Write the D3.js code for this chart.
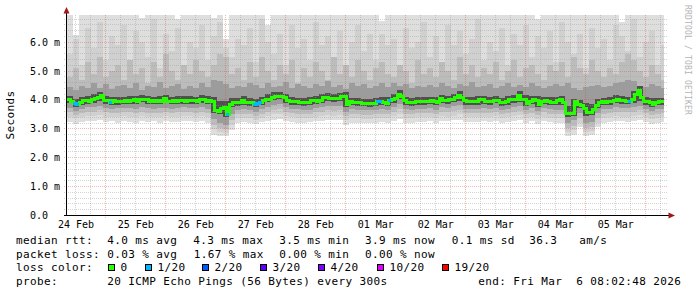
<!DOCTYPE html>
<html><head><meta charset="utf-8">
<script src="https://cdn.jsdelivr.net/npm/d3@7"></script>
<style>body{margin:0;background:#fff}svg{display:block}text{white-space:pre}</style>
</head><body>
<svg id="c" width="697" height="297"></svg>
<script>
// ---------------- data ----------------
const median = [
4.02,3.97,3.88,3.86,3.93,4.00,4.00,3.98,4.02,4.08,
4.12,4.16,4.00,3.99,3.94,4.00,3.97,3.95,3.98,4.00,
3.97,3.99,4.03,3.95,4.04,4.05,4.03,3.98,3.99,3.97,
4.00,3.98,4.07,3.98,3.97,4.00,3.98,3.99,4.01,3.98,
4.00,3.99,4.00,3.97,4.03,4.02,3.98,4.00,3.97,3.66,
3.63,3.72,3.76,3.50,3.87,3.92,3.93,3.92,4.00,3.93,
3.92,3.93,3.86,3.88,3.93,4.00,4.04,4.05,4.12,4.13,
4.15,4.15,4.10,4.00,3.96,3.95,3.96,3.93,3.92,3.93,
3.92,4.00,4.01,3.98,4.00,4.10,4.11,4.07,4.06,4.08,
4.07,4.14,4.15,3.87,3.96,3.92,3.93,3.92,3.90,3.90,
3.91,3.89,3.90,3.97,3.98,3.92,3.91,4.00,4.02,4.08,
4.20,4.15,4.00,3.93,3.92,3.93,3.96,3.95,3.96,3.95,
3.97,4.00,3.98,3.92,4.07,4.00,3.99,4.03,4.05,4.10,
4.18,4.10,4.00,3.95,3.95,3.96,3.95,4.03,4.04,3.96,
3.95,3.96,4.00,4.00,3.93,3.92,3.95,4.03,4.04,4.03,
4.18,4.05,4.04,3.91,3.97,4.03,4.01,3.87,3.98,3.99,
3.97,3.93,3.92,4.00,4.02,3.92,3.55,3.54,3.56,3.95,
3.86,3.84,3.72,3.58,3.60,3.70,3.84,3.94,3.95,3.94,
3.95,3.98,4.00,4.04,3.99,4.00,3.98,3.97,4.02,4.19,
4.36,4.10,3.98,3.96,3.94,3.87,3.94,3.95,3.95];
const loss = [
0,0,1,1,0,0,0,0,0,0,0,0,0,0,1,0,0,0,0,0,
0,0,0,0,0,0,0,0,0,0,0,0,0,0,0,0,0,0,0,0,
0,0,0,0,0,0,0,0,0,0,0,0,0,1,0,0,0,0,0,0,
0,0,1,1,1,0,0,0,0,0,0,0,0,0,0,0,0,0,0,0,
0,0,0,0,0,0,0,0,0,0,0,0,0,0,0,0,0,0,0,0,
0,0,0,1,1,0,0,1,0,0,0,0,0,0,0,0,0,0,0,0,
0,0,0,0,0,0,0,0,0,0,0,0,0,0,0,0,0,0,0,0,
0,0,0,0,0,0,0,0,0,0,0,0,0,0,0,0,0,0,0,0,
0,0,0,0,0,0,0,0,0,0,0,0,0,0,0,0,0,0,0,0,
0,0,0,0,0,0,0,1,0,0,0,0,0,0,0,0,0,0,0];
// smoke: ping spread per 2-step column (ms)
const smokeMax = [
7.5,6.25,7.5,7.5,7.5,7.5,7.5,7.5,7.5,7.5,
7.5,7.5,6.85,7.5,7.5,7.5,7.5,7.5,6.8,7.5,
7.5,7.5,7.5,7.5,6.85,7.5,6.1,7.5,7.5,7.5,
7.5,7.5,7.5,6.6,7.5,7.5,7.5,7.5,7.5,7.5,
7.5,7.5,7.5,7.5,7.5,7.5,7.5,7.5,7.5,7.5,
7.5,7.5,6.75,7.5,7.5,7.5,7.5,7.5,7.5,7.5,
7.5,7.5,7.5,7.5,7.5,7.5,7.5,7.5,7.5,7.5,
7.5,7.5,7.5,7.5,7.5,7.5,7.5,7.5,6.8,7.5,
7.5,7.5,7.5,7.5,7.5,7.5,7.5,7.5,7.5,7.5,
7.5,7.5,6.7,7.5,7.5,7.5,7.5,7.5,7.5,7.5];
const smokeU2 = [
5.6,6.1,5.2,6.5,5.8,6.7,5.4,6.2,5.9,6.6,
5.3,6.4,6.0,5.5,6.8,5.1,6.3,5.7,6.5,5.2,
6.0,5.8,6.6,5.4,6.2,6.7,5.8,5.5,6.1,5.9,
6.5,5.3,6.8,6.0,5.6,6.3,5.2,6.6,5.8,6.1,
5.4,6.7,5.9,6.2,5.5,6.4,5.1,6.0,6.6,5.7,
6.3,5.4,6.3,5.9,6.1,5.2,6.5,5.8,6.0,6.7,
5.5,6.2,5.3,6.6,5.9,6.4,5.6,6.1,6.8,5.4,
6.0,5.7,6.5,5.2,6.3,5.9,6.6,5.5,6.2,5.8,
6.4,5.3,6.7,6.0,5.6,6.3,5.1,6.5,5.8,6.1,
5.4,6.6,6.2,5.7,6.8,5.5,6.0,6.4,5.2,5.9];
const smokeU3 = [
4.8,5.1,4.7,5.3,4.9,5.5,4.8,5.0,5.2,4.7,
5.4,4.9,5.1,4.6,5.3,4.8,5.6,5.0,4.7,5.2,
4.9,5.4,5.0,4.8,5.2,5.6,5.5,4.9,5.1,4.7,
5.3,4.8,5.5,5.0,4.7,5.2,4.9,5.4,4.6,5.1,
4.8,5.3,5.0,4.7,5.5,4.9,5.2,4.8,5.4,5.0,
4.7,5.1,5.3,4.9,4.8,5.2,5.0,4.6,5.4,4.9,
5.1,4.8,5.3,5.0,4.7,5.5,4.9,5.2,4.8,5.1,
4.9,5.3,4.7,5.0,5.4,4.8,5.1,5.2,4.9,4.7,
5.2,5.0,5.3,4.8,5.5,5.1,4.9,5.4,5.0,4.8,
5.1,4.9,5.3,5.6,5.4,5.0,4.8,5.2,4.9,4.7];
const smokeU4 = [
4.45,4.35,4.5,4.4,4.6,4.42,4.55,4.38,4.48,4.52,
4.4,4.58,4.36,4.5,4.44,4.62,4.4,4.47,4.55,4.38,
4.5,4.42,4.6,4.46,4.7,4.65,4.55,4.4,4.5,4.44,
4.6,4.52,4.4,4.58,4.46,4.5,4.62,4.42,4.55,4.48,
4.4,4.56,4.5,4.64,4.45,4.52,4.38,4.6,4.47,4.55,
4.42,4.5,4.58,4.44,4.6,4.48,4.54,4.4,4.5,4.46,
4.52,4.44,4.6,4.5,4.42,4.56,4.48,4.62,4.45,4.5,
4.55,4.4,4.5,4.6,4.46,4.52,4.44,4.58,4.5,4.42,
4.48,4.55,4.5,4.6,4.4,4.35,4.45,4.5,4.52,4.44,
4.5,4.58,4.62,4.7,4.65,4.5,4.46,4.55,4.48,4.42];
const smokeU5 = [
4.14,4.05,4.12,4.13,4.2,4.28,4.14,4.1,4.1,4.12,
4.13,4.15,4.18,4.14,4.12,4.14,4.16,4.12,4.13,4.15,
4.14,4.12,4.16,4.13,4.1,3.95,3.98,4.06,4.08,4.13,
4.08,4.03,4.12,4.2,4.26,4.28,4.22,4.1,4.08,4.07,
4.1,4.14,4.22,4.24,4.2,4.25,4.27,4.08,4.07,4.04,
4.04,4.08,4.1,4.1,4.2,4.36,4.12,4.07,4.1,4.1,
4.12,4.1,4.18,4.15,4.22,4.3,4.12,4.1,4.13,4.15,
4.1,4.14,4.08,4.14,4.18,4.3,4.16,4.14,4.13,4.12,
4.1,4.1,4.14,3.8,4.05,4.0,3.88,3.86,4.05,4.08,
4.1,4.16,4.13,4.12,4.3,4.48,4.1,4.06,4.08,4.08];
const smokeL5 = [
3.88,3.74,3.82,3.86,3.9,3.98,3.87,3.84,3.84,3.87,
3.86,3.85,3.92,3.87,3.85,3.86,3.88,3.85,3.86,3.87,
3.87,3.86,3.9,3.86,3.55,3.5,3.4,3.76,3.8,3.83,
3.8,3.74,3.82,3.92,4.0,4.02,3.9,3.84,3.82,3.8,
3.81,3.87,3.9,3.96,3.94,3.96,3.76,3.82,3.8,3.78,
3.77,3.79,3.82,3.8,3.9,4.02,3.82,3.8,3.84,3.83,
3.85,3.81,3.88,3.87,3.93,3.98,3.83,3.83,3.84,3.85,
3.83,3.88,3.8,3.84,3.91,3.94,3.8,3.85,3.76,3.86,
3.82,3.81,3.82,3.42,3.45,3.72,3.46,3.48,3.72,3.82,
3.84,3.88,3.87,3.86,3.9,3.98,3.84,3.76,3.82,3.83];
const smokeL4 = [
3.72,3.62,3.7,3.74,3.75,3.8,3.72,3.7,3.71,3.73,
3.72,3.7,3.76,3.72,3.7,3.71,3.73,3.7,3.72,3.74,
3.73,3.71,3.75,3.7,3.35,3.2,3.15,3.5,3.65,3.68,
3.66,3.6,3.68,3.75,3.82,3.85,3.76,3.7,3.68,3.66,
3.67,3.72,3.75,3.8,3.78,3.8,3.6,3.68,3.66,3.64,
3.64,3.66,3.68,3.66,3.75,3.85,3.68,3.66,3.7,3.69,
3.71,3.67,3.74,3.72,3.78,3.82,3.69,3.69,3.7,3.71,
3.69,3.73,3.66,3.7,3.76,3.78,3.66,3.71,3.62,3.72,
3.68,3.67,3.66,3.2,3.3,3.55,3.22,3.25,3.55,3.68,
3.7,3.74,3.72,3.72,3.76,3.8,3.7,3.62,3.68,3.69];
const smokeL3 = [
3.57,3.48,3.55,3.59,3.6,3.64,3.57,3.55,3.56,3.58,
3.57,3.55,3.6,3.56,3.55,3.56,3.58,3.55,3.57,3.59,
3.58,3.56,3.6,3.55,3.15,3.02,2.98,3.3,3.5,3.53,
3.51,3.45,3.53,3.6,3.66,3.68,3.6,3.55,3.53,3.51,
3.52,3.57,3.6,3.64,3.62,3.64,3.45,3.53,3.51,3.49,
3.49,3.51,3.53,3.51,3.6,3.68,3.53,3.51,3.55,3.54,
3.56,3.52,3.59,3.57,3.62,3.66,3.54,3.54,3.55,3.56,
3.54,3.58,3.51,3.55,3.6,3.62,3.51,3.56,3.47,3.57,
3.53,3.52,3.51,3.02,3.1,3.38,3.04,3.06,3.38,3.53,
3.55,3.59,3.57,3.57,3.6,3.64,3.55,3.47,3.53,3.54];
const smokeL2 = [
3.42,3.36,3.4,3.44,3.45,3.48,3.42,3.4,3.41,3.43,
3.42,3.4,3.45,3.41,3.4,3.41,3.43,3.4,3.42,3.44,
3.43,3.41,3.45,3.4,2.98,2.88,2.86,3.12,3.36,3.39,
3.37,3.32,3.39,3.45,3.5,3.52,3.45,3.4,3.38,3.37,
3.38,3.42,3.45,3.48,3.46,3.48,3.32,3.39,3.37,3.35,
3.35,3.37,3.39,3.37,3.45,3.52,3.39,3.37,3.41,3.4,
3.42,3.38,3.44,3.42,3.46,3.5,3.4,3.4,3.41,3.42,
3.4,3.43,3.37,3.41,3.45,3.47,3.37,3.42,3.34,3.42,
3.39,3.38,3.37,2.88,2.95,3.22,2.9,2.92,3.22,3.39,
3.41,3.44,3.42,3.42,3.45,3.48,3.41,3.34,3.39,3.4];
const smokeMin = [
3.25,3.18,3.24,3.28,3.27,3.3,3.24,3.26,3.22,3.27,
3.25,3.22,3.28,3.23,3.26,3.21,3.27,3.24,3.25,3.28,
3.26,3.23,3.28,3.22,2.8,2.76,2.75,2.95,3.2,3.24,
3.22,3.16,3.24,3.28,3.32,3.34,3.28,3.24,3.22,3.2,
3.23,3.26,3.28,3.3,3.29,3.3,3.15,3.22,3.2,3.19,
3.2,3.21,3.24,3.22,3.28,3.33,3.22,3.21,3.25,3.24,
3.26,3.22,3.27,3.26,3.29,3.32,3.24,3.23,3.25,3.26,
3.24,3.27,3.2,3.25,3.28,3.3,3.21,3.26,3.17,3.26,
3.23,3.22,3.21,2.76,2.8,3.05,2.76,2.77,3.05,3.22,
3.25,3.27,3.26,3.25,3.28,3.31,3.25,3.18,3.22,3.24];

const yMajorTicks = [0,1,2,3,4,5,6];
const yTickLabels = ["0.0","1.0 m","2.0 m","3.0 m","4.0 m","5.0 m","6.0 m"];
const lossLevels = [0,1,2,3,4,10,19];
const lossLabels = ["0","1/20","2/20","3/20","4/20","10/20","19/20"];
const lossColors = ["#26ff00","#00b8ff","#0059ff","#5e00ff","#7e00ff","#dd00ff","#ff0000"];
const rowTitles = ["median rtt:","packet loss:","loss color:","probe:"];
const rttStats = ["4.0 ms avg","4.3 ms max","3.5 ms min","3.9 ms now","0.1 ms sd","36.3","am/s"];
const lossStats = ["0.03 % avg","1.67 % max","0.00 % min","0.00 % now"];
const probeText = "20 ICMP Echo Pings (56 Bytes) every 300s";
const endText = "end: Fri Mar  6 08:02:48 2026";
const yTitle = "Seconds";
const watermark = "RRDTOOL / TOBI OETIKER";

// ---------------- chart ----------------
const svg = d3.select('#c');
svg.append('rect').attr('width',697).attr('height',297).attr('fill','#fff');
const MONO = "'DejaVu Sans Mono', monospace";
const t0 = Date.UTC(2026,1,24,8,31), t1 = t0 + 10*864e5;
const step = 4320e3, colStep = 8640e3;
const tData = t0 + median.length*step;
const x = d3.scaleUtc().domain([t0,t1]).range([67,667]);
const y = d3.scaleLinear().domain([0,6.925]).range([215.5,15.5]);

svg.append('clipPath').attr('id','pc').append('rect')
  .attr('x',67).attr('y',15).attr('width',600).attr('height',200);

// smoke
const layers = [[smokeMin,smokeMax,'#dedede'],[smokeL2,smokeU2,'#d0d0d0'],
  [smokeL3,smokeU3,'#bcbcbc'],[smokeL4,smokeU4,'#9c9c9c'],[smokeL5,smokeU5,'#505050']];
const gS = svg.append('g').attr('clip-path','url(#pc)').attr('shape-rendering','crispEdges');
layers.forEach(([lo,hi,c]) => {
  gS.append('g').attr('fill',c).selectAll('rect')
    .data(lo.map((v,j)=>({j, lo:v, hi:hi[j]})))
    .join('rect')
    .attr('x', d => Math.round(x(t0+d.j*colStep)))
    .attr('width', d => Math.round(x(Math.min(t0+(d.j+1)*colStep, tData))) - Math.round(x(t0+d.j*colStep)))
    .attr('y', d => Math.round(y(d.hi)))
    .attr('height', d => Math.round(y(d.lo)) - Math.round(y(d.hi)));
});

// grid
const gG = svg.append('g').attr('shape-rendering','crispEdges').attr('stroke-dasharray','1,1');
const minorY = d3.range(1,35).map(k=>k*0.2).filter(v=>Math.abs(v-Math.round(v))>1e-6);
const py = v => Math.round(y(v)-0.5)+0.5;
const px = t => Math.floor(x(t))+0.5;
const minorCol = 'rgba(160,160,160,0.45)', majorCol = 'rgba(220,70,70,0.38)';
gG.selectAll('.hm').data(minorY).join('line')
  .attr('x1',64).attr('x2',667).attr('y1',py).attr('y2',py)
  .attr('stroke',minorCol);
const minorX = d3.utcHour.every(6).range(t0,t1).filter(t=>t.getUTCHours()!==0);
gG.selectAll('.vm').data(minorX).join('line')
  .attr('x1',px).attr('x2',px).attr('y1',15).attr('y2',217)
  .attr('stroke',minorCol);
gG.selectAll('.hM').data(yMajorTicks.filter(v=>v>0)).join('line')
  .attr('x1',64).attr('x2',667).attr('y1',py).attr('y2',py)
  .attr('stroke',majorCol);
const days = d3.utcDay.range(t0,t1);
gG.selectAll('.vM').data(days).join('line')
  .attr('x1',px).attr('x2',px).attr('y1',15).attr('y2',218)
  .attr('stroke',majorCol);

// median line coloured by loss
const colorOf = l => { let c = lossColors[0]; lossLevels.forEach((lv,k)=>{ if (l>=lv) c = lossColors[k]; }); return c; };
const line = d3.line().x(d=>x(d[0])).y(d=>Math.round(y(d[1]))+0.5).curve(d3.curveStepAfter);
const pts = median.map((v,i)=>[t0+i*step, v]);
pts.push([tData, median[median.length-1]]);
const gL = svg.append('g').attr('clip-path','url(#pc)');
gL.append('path').attr('d', line(pts)).attr('fill','none')
  .attr('stroke', colorOf(0)).attr('stroke-width',3).attr('shape-rendering','crispEdges');
const runs = [];
median.forEach((v,i) => {
  if (loss[i] > 0) {
    const last = runs[runs.length-1];
    if (last && last.end === i && last.c === colorOf(loss[i])) { last.pts.push([t0+i*step, v]); last.end = i+1; }
    else runs.push({c: colorOf(loss[i]), pts: [[t0+i*step, v]], end: i+1});
  }
});
runs.forEach(r => {
  const p = r.pts.slice(); p.push([t0+r.end*step, p[p.length-1][1]]);
  gL.append('path').attr('d', line(p)).attr('fill','none')
    .attr('stroke', r.c).attr('stroke-width',3).attr('shape-rendering','crispEdges');
});

// axes
svg.append('line').attr('x1',66.5).attr('x2',66.5).attr('y1',216).attr('y2',12)
  .attr('stroke','#000').attr('shape-rendering','crispEdges');
svg.append('line').attr('x1',64).attr('x2',670).attr('y1',215.5).attr('y2',215.5)
  .attr('stroke','#000').attr('shape-rendering','crispEdges');
svg.append('path').attr('d','M63.5,13.5L69.5,13.5L66.5,7Z').attr('fill','#a01818');
svg.append('path').attr('d','M668.5,212.5L668.5,218.5L675,215.5Z').attr('fill','#a01818');

// y tick labels
svg.selectAll('.yl').data(yMajorTicks).join('text')
  .attr('x',30).attr('y', v => py(v)+3.5)
  .attr('font-family',MONO).attr('font-size',10).attr('fill','#000')
  .text((v,k)=>yTickLabels[k]);

// x labels at noon
const fmt = d3.utcFormat('%d %b');
svg.selectAll('.xl').data(days.map(d=>new Date(+d - 864e5))).join('text')
  .attr('x', d => Math.max(x(+d + 432e5), 76))
  .attr('y', 228)
  .attr('text-anchor','middle')
  .attr('font-family',MONO).attr('font-size',10).attr('fill','#000')
  .text(d => fmt(d));

// y title
svg.append('text').attr('transform','translate(13.5,115) rotate(-90)')
  .attr('text-anchor','middle').attr('font-family',MONO).attr('font-size',11)
  .attr('letter-spacing',0.38).attr('fill','#000').text(yTitle);

// watermark
svg.append('text').attr('transform','translate(684.5,5) rotate(90)')
  .attr('font-family',MONO).attr('font-size',8).attr('letter-spacing',0.18)
  .attr('fill','#b4b4b4').text(watermark);

// legend
const leg = svg.append('g').attr('font-family',MONO).attr('font-size',11)
  .attr('letter-spacing',0.38).attr('fill','#000');
const rowY = [244, 257.7, 271.4, 285];
leg.selectAll('.rt').data(rowTitles).join('text').attr('x',16).attr('y',(d,k)=>rowY[k]).text(d=>d);
const rttX = [107.3,193.3,279.3,365,451.7,529.3,579.3];
leg.selectAll('.r1').data(rttStats).join('text').attr('x',(d,k)=>rttX[k]).attr('y',rowY[0]).text(d=>d);
const lossX = [107.3,193.8,279.3,365];
leg.selectAll('.r2').data(lossStats).join('text').attr('x',(d,k)=>lossX[k]).attr('y',rowY[1]).text(d=>d);
const boxX = [108,145,202,260,318,377,442];
leg.selectAll('.bx').data(lossColors).join('rect')
  .attr('x',(d,k)=>boxX[k]+0.5).attr('y',264.5).attr('width',6).attr('height',6)
  .attr('fill',d=>d).attr('stroke','#000').attr('shape-rendering','crispEdges');
leg.selectAll('.bt').data(lossLabels).join('text')
  .attr('x',(d,k)=>boxX[k]+12.5).attr('y',rowY[2]).text(d=>d);
leg.append('text').attr('x',107.3).attr('y',rowY[3]).text(probeText);
leg.append('text').attr('x',478.3).attr('y',rowY[3]).text(endText);
</script>
</body></html>
